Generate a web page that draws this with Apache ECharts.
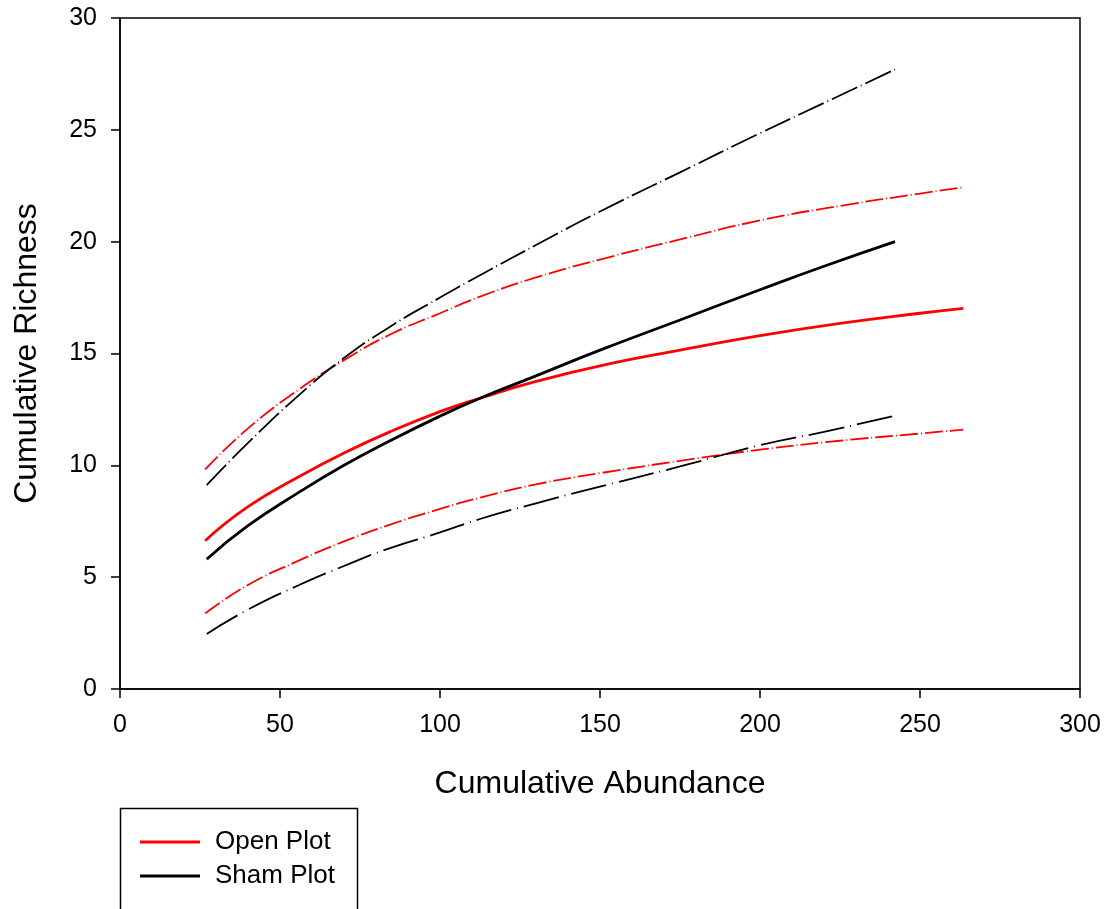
<!DOCTYPE html>
<html>
<head>
<meta charset="utf-8">
<script src="https://cdn.jsdelivr.net/npm/echarts@6/dist/echarts.min.js"></script>
<style>
html,body{margin:0;padding:0;background:#fff;}
#chart{width:1107px;height:909px;}
</style>
</head>
<body>
<div id="chart"></div>
<script>
// ---- data ----
const xTicks = [0, 50, 100, 150, 200, 250, 300];
const yTicks = [0, 5, 10, 15, 20, 25, 30];

const openX      = [26.6, 40, 56, 70, 84.4, 100, 112.5, 130, 150, 175, 200, 225, 250, 263.5];
const openMean   = [6.63, 8.15, 9.5, 10.55, 11.5, 12.4, 13.0, 13.75, 14.45, 15.15, 15.8, 16.35, 16.8, 17.02];
const openUpper  = [9.82, 11.65, 13.4, 14.7, 15.85, 16.8, 17.54, 18.4, 19.2, 20.1, 20.95, 21.6, 22.15, 22.43];
const openLower  = [3.38, 4.65, 5.75, 6.6, 7.35, 8.05, 8.55, 9.15, 9.65, 10.2, 10.7, 11.1, 11.42, 11.6];

const shamX      = [27.1, 40, 56, 70, 84.4, 100, 112.5, 130, 150, 175, 200, 220, 242.2];
const shamMean   = [5.80, 7.3, 8.8, 10.0, 11.1, 12.2, 13.0, 14.0, 15.15, 16.5, 17.85, 18.9, 20.0];
const shamUpper  = [9.12, 11.0, 13.15, 14.8, 16.2, 17.5, 18.5, 19.85, 21.35, 23.1, 24.85, 26.2, 27.7];
const shamLower  = [2.46, 3.55, 4.65, 5.5, 6.3, 7.0, 7.6, 8.3, 9.05, 9.95, 10.9, 11.5, 12.22];

const seriesNames = ['Open Plot', 'Sham Plot'];
const xTitle = 'Cumulative Abundance';
const yTitle = 'Cumulative Richness';

function pairs(xs, ys){ return xs.map((x,i)=>[x, ys[i]]); }

const FONT = 'Liberation Sans, Arial, sans-serif';
const chart = echarts.init(document.getElementById('chart'));

function lineSeries(name, xs, ys, color, width, type){
  return {
    name: name, type: 'line', data: pairs(xs, ys), smooth: 0.5,
    symbol: 'none', showSymbol: false, silent: true,
    lineStyle: {color: color, width: width, type: type, cap: 'butt'},
    itemStyle: {color: color},
    z: type === 'solid' ? 3 : 2
  };
}

chart.setOption({
  animation: false,
  backgroundColor: '#fff',
  grid: {left: 120, right: 27, top: 18, bottom: 220, show: true,
         borderColor: '#000', borderWidth: 1.5, backgroundColor: 'transparent'},
  xAxis: {
    type: 'value', min: 0, max: 300, interval: 50,
    name: xTitle, nameLocation: 'middle', nameGap: 79,
    nameTextStyle: {fontFamily: FONT, fontSize: 32, color: '#000'},
    axisLine: {show: true, lineStyle: {color: '#000', width: 1.5}},
    axisTick: {show: true, inside: false, length: 9, lineStyle: {color: '#000', width: 1.5}},
    axisLabel: {fontFamily: FONT, fontSize: 25, color: '#000', margin: 24,
                formatter: v => xTicks.includes(v) ? String(v) : ''},
    splitLine: {show: false}
  },
  yAxis: {
    type: 'value', min: 0, max: 30, interval: 5,
    name: yTitle, nameLocation: 'middle', nameGap: 77,
    nameTextStyle: {fontFamily: FONT, fontSize: 32, color: '#000'},
    axisLine: {show: true, lineStyle: {color: '#000', width: 1.5}},
    axisTick: {show: true, inside: false, length: 9, lineStyle: {color: '#000', width: 1.5}},
    axisLabel: {fontFamily: FONT, fontSize: 25, color: '#000', margin: 23,
                formatter: v => yTicks.includes(v) ? String(v) : ''},
    splitLine: {show: false}
  },
  legend: {
    data: seriesNames.map(n => ({name: n, icon: 'rect'})),
    orient: 'vertical', left: 140, top: 829, padding: 0,
    itemWidth: 60, itemHeight: 3, itemGap: 8,
    textStyle: {fontFamily: FONT, fontSize: 26, color: '#000', lineHeight: 26, padding: [0,0,0,10]},
    selectedMode: false
  },
  graphic: [{
    type: 'rect', silent: true,
    shape: {x: 120.5, y: 808.5, width: 237, height: 150},
    style: {fill: 'none', stroke: '#000', lineWidth: 1.5}
  }],
  series: [
    lineSeries('Open Upper', openX, openUpper, '#ff0000', 1.8, [18, 3, 1, 3]),
    lineSeries('Open Lower', openX, openLower, '#ff0000', 1.8, [18, 3, 1, 3]),
    lineSeries('Sham Upper', shamX, shamUpper, '#000000', 1.8, [28, 4, 1, 4]),
    lineSeries('Sham Lower', shamX, shamLower, '#000000', 1.8, [36, 6, 1, 6]),
    lineSeries(seriesNames[0], openX, openMean, '#ff0000', 2.8, 'solid'),
    lineSeries(seriesNames[1], shamX, shamMean, '#000000', 2.8, 'solid')
  ]
});
</script>
</body>
</html>
